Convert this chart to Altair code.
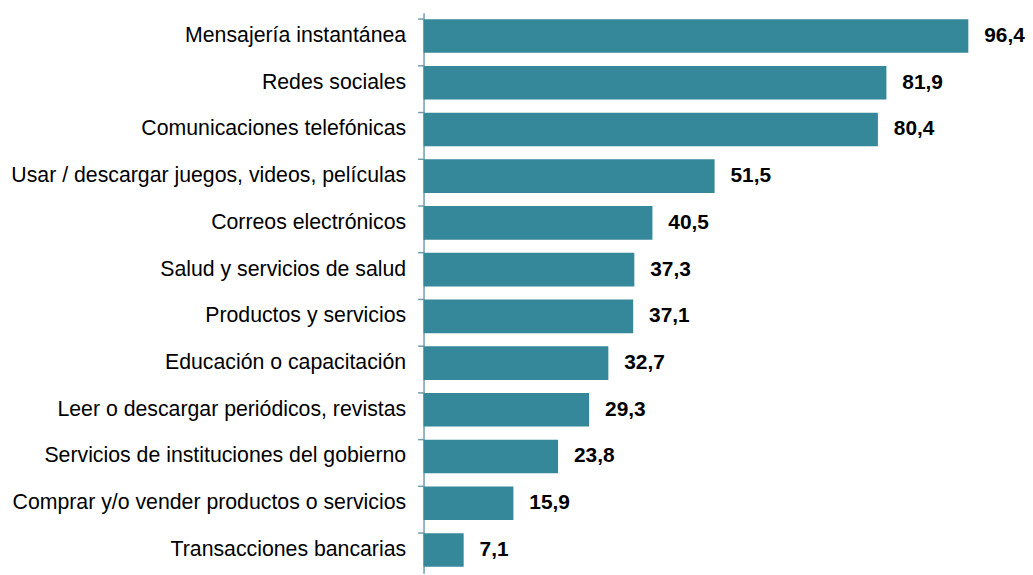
import altair as alt
import pandas as pd

categories = [
    "Mensajería instantánea",
    "Redes sociales",
    "Comunicaciones telefónicas",
    "Usar / descargar juegos, videos, películas",
    "Correos electrónicos",
    "Salud y servicios de salud",
    "Productos y servicios",
    "Educación o capacitación",
    "Leer o descargar periódicos, revistas",
    "Servicios de instituciones del gobierno",
    "Comprar y/o vender productos o servicios",
    "Transacciones bancarias",
]
values = [96.4, 81.9, 80.4, 51.5, 40.5, 37.3, 37.1, 32.7, 29.3, 23.8, 15.9, 7.1]

df = pd.DataFrame({"cat": categories, "val": values})
df["label"] = [f"{v:.1f}".replace(".", ",") for v in values]

FONT = "Liberation Sans"
COLOR = "#35879A"

base = alt.Chart(df).encode(
    y=alt.Y(
        "cat:N",
        sort=categories,
        title=None,
        scale=alt.Scale(paddingInner=0.28, paddingOuter=0.14),
        axis=alt.Axis(
            labelFont=FONT,
            labelFontSize=21.4,
            labelColor="#000000",
            labelPadding=12,
            labelLimit=0,
            bandPosition=0,
            ticks=True,
            tickSize=6,
            tickColor="#6f9fae",
            domainColor="#6f9fae",
            tickWidth=1.5,
            domainWidth=1.5,
        ),
    ),
    x=alt.X(
        "val:Q",
        title=None,
        axis=None,
        scale=alt.Scale(domain=[0, 96.4], nice=False),
    ),
)

bars = base.mark_bar(color=COLOR)
text = base.mark_text(
    align="left", baseline="middle", dx=16, font=FONT, fontSize=21,
    fontWeight="bold", color="#000000"
).encode(text="label:N")

chart = (bars + text).properties(
    width=548, height=564,
    padding={"top": 3, "left": 2, "right": 0, "bottom": 0},
).configure_view(stroke=None)

chart.save("out.html", embed_options={"renderer": "svg", "actions": False})
